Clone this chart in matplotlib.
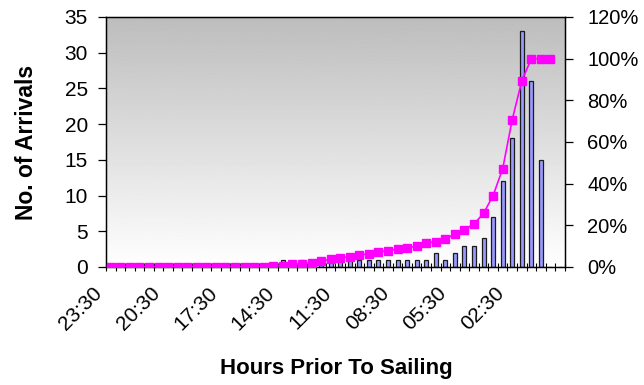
import numpy as np
import matplotlib
matplotlib.use("Agg")
import matplotlib.pyplot as plt
import matplotlib.transforms as mtransforms
from matplotlib.ticker import PercentFormatter, FixedLocator

plt.rcParams['font.family'] = ['Liberation Sans', 'DejaVu Sans']

# 48 half-hour bins from 23:30 down to 00:00 (index 0 = 23:30)
categories = []
for i in range(48):
    mins = 23 * 60 + 30 - 30 * i
    categories.append(f"{mins // 60:02d}:{mins % 60:02d}")

arrivals = [0, 0, 0, 0, 0, 0, 0, 0, 0, 0, 0, 0, 0, 0, 0, 0, 0, 0,
            1, 0, 1, 0, 1, 1, 1, 1, 1, 1, 1, 1, 1, 1, 1, 1,
            2, 1, 2, 3, 3, 4, 7, 12, 18, 33, 26, 15, 0, 0]

cumulative_pct = [0, 0, 0, 0, 0, 0, 0, 0, 0, 0, 0, 0, 0, 0, 0, 0, 0,
                  0.7, 0.7, 1.4, 1.4, 2.1, 2.9, 3.6, 4.3, 5.0, 5.7, 6.4,
                  7.1, 7.9, 8.6, 9.3, 10.0, 11.4, 12.1, 13.6, 15.7, 17.9,
                  20.7, 25.7, 34.3, 47.1, 70.7, 89.3, 100, 100, 100]

label_every = 6

fig = plt.figure(figsize=(6.44, 3.85), dpi=100)
ax = fig.add_axes([0.1646, 0.3065, 0.7124, 0.6495])
n = len(categories)
x = np.arange(n)

# gradient background
grad = np.linspace(0.74, 1.0, 256).reshape(-1, 1)
ax.imshow(grad, extent=[-0.5, n - 0.5, 0, 35], aspect='auto', cmap='gray',
          vmin=0, vmax=1, origin='upper', zorder=0)

ax.bar(x, arrivals, width=0.42, color='#9999ff', edgecolor='#1a1a1a',
       linewidth=0.9, zorder=2)
ax.set_xlim(-0.5, n - 0.5)
ax.set_ylim(0, 35)
ax.set_yticks(range(0, 36, 5))

# category tick marks at bin boundaries, labels every 6 bins
ax.set_xticks([])
ax.xaxis.set_minor_locator(FixedLocator(np.arange(-0.5, n, 1)))
ax.tick_params(axis='x', which='minor', direction='inout', length=6, width=0.8)
base = mtransforms.blended_transform_factory(ax.transData, ax.transAxes)
offset = mtransforms.ScaledTranslation(-18 / 100, -16 / 100, fig.dpi_scale_trans)
for i in range(0, n, label_every):
    ax.text(i, 0, categories[i], transform=base + offset, rotation=45,
            ha='right', va='top', rotation_mode='anchor', fontsize=15,
            clip_on=False)

ax.tick_params(axis='y', direction='out', length=6, labelsize=15, width=0.9, pad=7)

for s in ax.spines.values():
    s.set_linewidth(1.0)

ax.set_ylabel('No. of Arrivals', fontsize=16.5, fontweight='bold', labelpad=19)
ax.text(0.5, -0.155 - 0.0, '', transform=ax.transAxes)
fig.text(0.5215, 0.044, 'Hours Prior To Sailing', fontsize=16, fontweight='bold',
         ha='center', va='center')

ax2 = ax.twinx()
xl = x[:len(cumulative_pct)]
ax2.plot(xl, np.array(cumulative_pct) / 100.0, color='#ff00ff', linewidth=1.2,
         marker='s', markersize=5.5, markerfacecolor='#ff00ff',
         markeredgecolor='#ff00ff', zorder=3)
ax2.set_ylim(0, 1.2)
ax2.set_yticks(np.arange(0, 1.21, 0.2))
ax2.yaxis.set_major_formatter(PercentFormatter(1.0, decimals=0))
ax2.tick_params(axis='y', direction='out', length=6, labelsize=14.5, width=0.9, pad=10)
ax2.set_xlim(-0.5, n - 0.5)

fig.savefig('out.png', dpi=100)
